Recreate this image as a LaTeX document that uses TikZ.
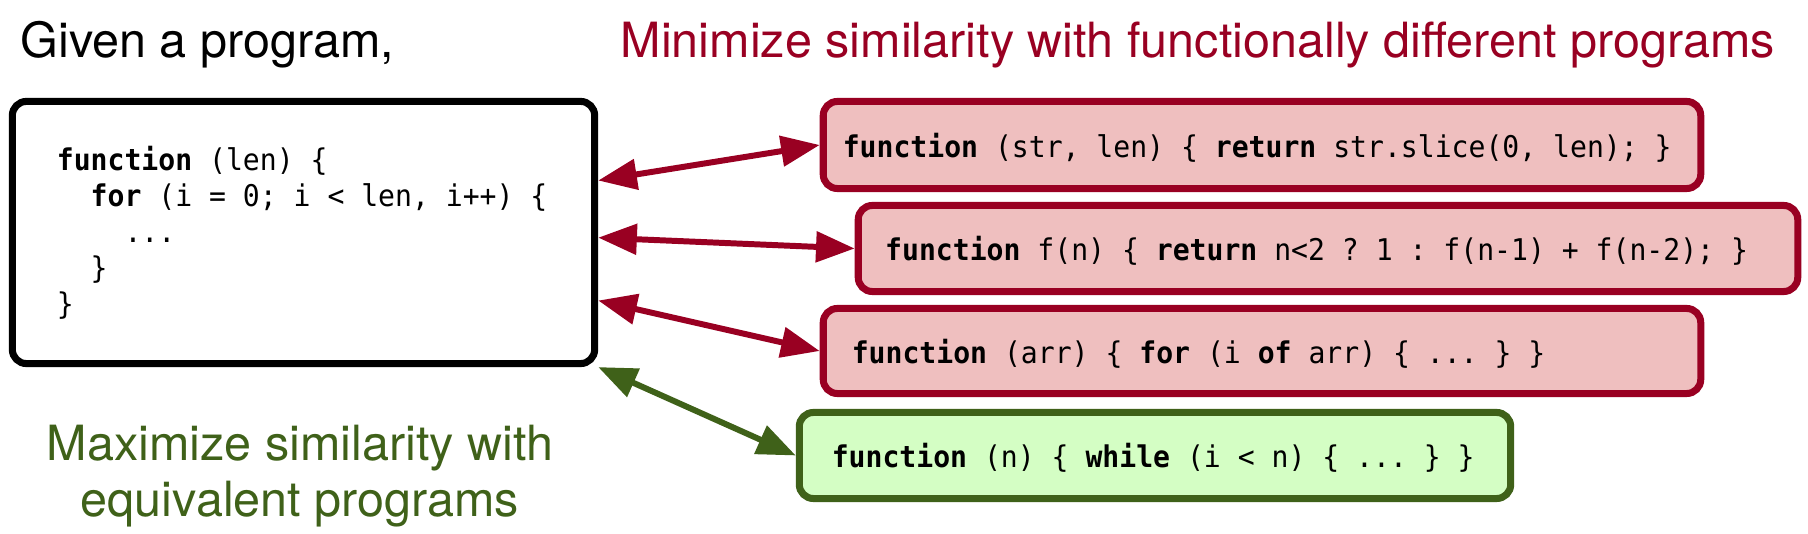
\documentclass[tikz,border=0pt]{standalone}
\usepackage{fontspec}
\setmainfont{TeX Gyre Heros}
\newfontfamily\codefont[FakeStretch=0.94]{DejaVu Sans Mono}
\usetikzlibrary{arrows.meta}
\definecolor{negred}{HTML}{990022}
\definecolor{negfill}{HTML}{EFBFBF}
\definecolor{posgreen}{HTML}{3F6119}
\definecolor{posfill}{HTML}{D4FEC4}
\tikzset{prog/.style={draw, line width=2pt, rounded corners=4pt, font=\codefont\fontsize{8.5pt}{10.24pt}\selectfont, align=left, inner sep=0pt,
  execute at begin node={\spaceskip=\fontdimen2\font\xspaceskip=\fontdimen2\font\relax}},
negbox/.style={prog, draw=negred, fill=negfill, text height=0.27cm, text depth=0.03cm},
posbox/.style={prog, draw=posgreen, fill=posfill, text height=0.27cm, text depth=0.03cm},
link/.style={{Triangle[length=11pt,width=8.5pt]}-{Triangle[length=11pt,width=8.5pt]}, line width=1.7pt},
title/.style={font=\fontsize{13.8pt}{15.9pt}\selectfont, inner sep=0pt}}

\begin{document}
\begin{tikzpicture}[x=0.01cm, y=-0.01cm]
  \useasboundingbox (0,0) rectangle (1808,534);
  \node[title, anchor=base west] (given) at (20,58) {Given a program,};
  \node[title, anchor=base west, text=negred] (mintitle) at (620,58) {Minimize similarity with functionally different programs};
  \node[title, align=center, text=posgreen] (maxtitle) at (300,476) {Maximize similarity with\\equivalent programs};
  \node[prog, minimum width=5.82cm, minimum height=2.62cm, text width=4.93cm] (main) at (303.5,232.5)
    {\textbf{function} (len) \{\\
     \phantom{xx}\textbf{for} (i = 0; i < len, i++) \{\\
     \phantom{xxxx}...\\
     \phantom{xx}\}\\
     \}};
  \node[negbox, minimum width=8.77cm, minimum height=0.87cm, text width=8.38cm] (b1) at (1262,145)
    {\textbf{function} (str, len) \{ \textbf{return} str.slice(0, len); \}};
  \node[negbox, minimum width=9.39cm, minimum height=0.86cm, text width=8.85cm] (b2) at (1328,248.5)
    {\textbf{function} f(n) \{ \textbf{return} n<2 ? 1 : f(n-1) + f(n-2); \}};
  \node[negbox, minimum width=8.77cm, minimum height=0.85cm, text width=8.2cm] (b3) at (1262,351)
    {\textbf{function} (arr) \{ \textbf{for} (i \textbf{of} arr) \{ ... \} \}};
  \node[posbox, minimum width=7.11cm, minimum height=0.86cm, text width=6.46cm] (b4) at (1155,455.5)
    {\textbf{function} (n) \{ \textbf{while} (i < n) \{ ... \} \}};
  \draw[negred] (main.10) edge[link] (b1.west)
    (main.-1) edge[link] (b2.west)
    (main.-13) edge[link] (b3.west);
  \draw[link, posgreen] (main.south east) -- (b4.west);
\end{tikzpicture}
\end{document}
